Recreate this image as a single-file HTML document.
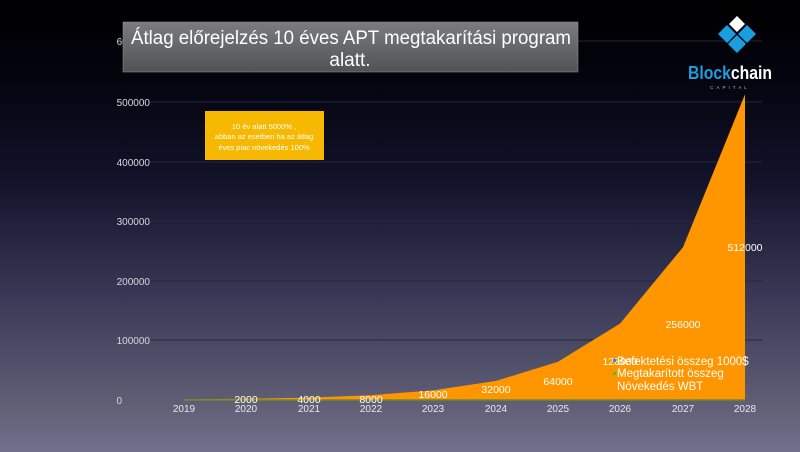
<!DOCTYPE html>
<html><head><meta charset="utf-8"><style>
body{margin:0;width:800px;height:452px;overflow:hidden;font-family:"Liberation Sans",sans-serif;
background:linear-gradient(180deg,#000 0px,#02020a 60px,#12122a 180px,#3a3a58 300px,#5e5d74 400px,#71708a 452px);}
</style></head><body>
<svg width="800" height="452" style="position:absolute;left:0;top:0" font-family="Liberation Sans, sans-serif">
<g stroke="#26263a" stroke-width="1">
<line x1="150" y1="41" x2="762" y2="41"/><line x1="150" y1="102" x2="762" y2="102"/>
<line x1="150" y1="162" x2="762" y2="162"/><line x1="150" y1="221" x2="762" y2="221"/>
<line x1="150" y1="281" x2="762" y2="281"/><line x1="150" y1="340" x2="762" y2="340"/>
</g>
<g fill="#d8d8e0" font-size="10" text-anchor="end">
<text x="150" y="45">600000</text><text x="150" y="106">500000</text><text x="150" y="166">400000</text>
<text x="150" y="225">300000</text><text x="150" y="285">200000</text><text x="150" y="344">100000</text>
<text x="122" y="404">0</text>
</g>
<polygon fill="#ff9600" points="184,399.4 246,398.8 309,397.6 371,395.2 433,390.4 496,380.9 558,361.8 620,323.6 683,247.2 745,94.3 745,400 184,400"/>
<line x1="184" y1="400" x2="745" y2="400" stroke="#6a8a30" stroke-width="1.5"/>
<g fill="#e8e8f0" font-size="10" text-anchor="middle">
<text x="184" y="412">2019</text><text x="246" y="412">2020</text><text x="309" y="412">2021</text>
<text x="371" y="412">2022</text><text x="433" y="412">2023</text><text x="496" y="412">2024</text>
<text x="558" y="412">2025</text><text x="620" y="412">2026</text><text x="683" y="412">2027</text><text x="745" y="412">2028</text>
</g>
<g fill="#fff" font-size="10.5" text-anchor="middle">
<text x="246" y="403">2000</text><text x="309" y="403">4000</text><text x="371" y="403">8000</text>
<text x="433" y="398">16000</text><text x="496" y="393">32000</text><text x="558" y="385">64000</text>
<text x="620" y="365">128000</text><text x="683" y="328">256000</text><text x="745" y="251">512000</text>
</g>
<g fill="#fff" font-size="11.5">
<text x="617" y="365">Befektetési összeg 1000$</text>
<text x="617" y="377">Megtakarított összeg</text>
<text x="617" y="390">Növekedés WBT</text>
</g>
<rect x="613" y="359" width="3" height="3" fill="#1e90ff"/><rect x="613" y="372" width="3" height="3" fill="#3c3"/>
<rect x="205" y="111" width="119" height="49" fill="#f6b800"/>
<g fill="#fff" font-size="7.5" text-anchor="middle">
<text x="264" y="129">10 év alatt  5000% ,</text>
<text x="264" y="139">abban az esetben ha az átlag</text>
<text x="264" y="150">éves  piac növekedés 100%</text>
</g>
<defs><linearGradient id="g" x1="0" y1="0" x2="0" y2="1"><stop offset="0" stop-color="#7a7c7e"/><stop offset="1" stop-color="#505254"/></linearGradient></defs>
<rect x="123" y="22" width="455" height="50" fill="url(#g)" stroke="#999" stroke-width="0.5"/>
<g fill="#fff" font-size="19" text-anchor="middle">
<text x="351" y="44" textLength="440" lengthAdjust="spacingAndGlyphs">Átlag előrejelzés 10 éves APT megtakarítási program</text>
<text x="350" y="66">alatt.</text>
</g>
<polygon points="737,16 745,24 737,32 729,24" fill="#fff"/>
<polygon points="727,25 736,34 727,43 718,34" fill="#1a9ee0"/>
<polygon points="747,25 756,34 747,43 738,34" fill="#1a9ee0"/>
<polygon points="737,35 746,44 737,53 728,44" fill="#1a9ee0"/>
<text x="688" y="79" font-size="18" font-weight="bold" fill="#1a9ee0" textLength="84" lengthAdjust="spacingAndGlyphs">Block<tspan fill="#fff">chain</tspan></text>
<text x="730" y="89" font-size="4.5" fill="#bbb" text-anchor="middle" letter-spacing="3">CAPITAL</text>
</svg>
</body></html>
